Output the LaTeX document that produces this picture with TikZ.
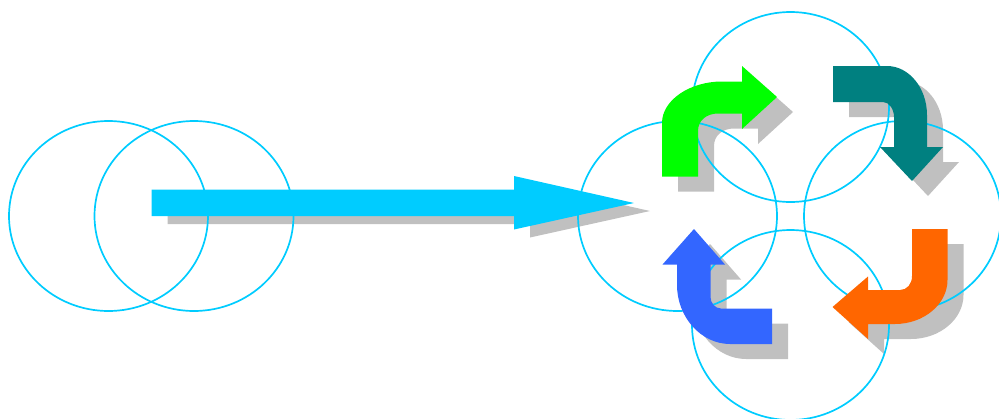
\documentclass[tikz,border=0pt]{standalone}
\definecolor{sky}{HTML}{00CCFF}
\definecolor{ringc}{HTML}{00CCFF}
\definecolor{shadc}{HTML}{C0C0C0}
\definecolor{greenc}{HTML}{00FF00}
\definecolor{tealc}{HTML}{008080}
\definecolor{bluec}{HTML}{3366FF}
\definecolor{orangec}{HTML}{FF6600}
\begin{document}
\begin{tikzpicture}[x=1pt,y=-1pt]
\tikzset{
 ring/.style={draw=ringc, line width=1.7pt},
 shd/.style={fill=shadc},
 bigarrow/.style={insert path={(151.5,189.5) -- (514,189.5) -- (514,176) -- (634,203) -- (514,229.5) -- (514,216) -- (151.5,216) -- cycle}},
 greenarrow/.style={insert path={(662,176.5) -- (662,123) .. controls (662,100) and (690,81.5) .. (722,81.5) -- (742,81.5) -- (742,66) -- (777,97) -- (742,129) -- (742,113.5) -- (718,113.5) .. controls (707,113.5) and (698,120) .. (698,131) -- (698,176.5) -- cycle}},
 tealarrow/.style={insert path={(833,66) -- (887,66) .. controls (909,66) and (927,88) .. (927,115) -- (927,147) -- (943,147) -- (912,181) -- (880,147) -- (894,147) -- (894,117) .. controls (894,109) and (889,102) .. (883,102) -- (833,102) -- cycle}},
 bluearrow/.style={insert path={(772,308.5) -- (721,308.5) .. controls (715,308.5) and (710.5,303) .. (710.5,297) -- (710.5,264.5) -- (725,264.5) -- (694,229) -- (662.5,264.5) -- (677,264.5) -- (677,285) .. controls (677,317) and (701,344) .. (730,344) -- (772,344) -- cycle}},
 orangearrow/.style={insert path={(912,229) -- (947.5,229) -- (947.5,280) .. controls (947.5,304) and (924,324) .. (895,324) -- (868,324) -- (868,339) -- (832.5,307) -- (868,276.5) -- (868,290) -- (900,290) .. controls (907,290) and (912,284) .. (912,276) -- cycle}}
}
\useasboundingbox (0,0) rectangle (999,418);
% shadows
\begin{scope}[shift={(16,8)}]
 \fill[shd, bigarrow];
\end{scope}
\begin{scope}[shift={(16,15)}]
 \fill[shd, greenarrow];
 \fill[shd, tealarrow];
 \fill[shd, bluearrow];
 \fill[shd, orangearrow];
\end{scope}
% main arrow
\fill[sky, bigarrow];
% rings
\draw[ring] (108.5,216) ellipse [x radius=99.5, y radius=95];
\draw[ring] (194,216) ellipse [x radius=99.5, y radius=95];
\draw[ring] (677.5,216) ellipse [x radius=99.5, y radius=95];
\draw[ring] (790.5,107) ellipse [x radius=98.5, y radius=95];
\draw[ring] (902.5,216) ellipse [x radius=98.5, y radius=95];
\draw[ring] (790.5,325) ellipse [x radius=98.5, y radius=95];
% cycle arrows
\fill[greenc, greenarrow];
\fill[tealc, tealarrow];
\fill[bluec, bluearrow];
\fill[orangec, orangearrow];
\end{tikzpicture}
\end{document}
